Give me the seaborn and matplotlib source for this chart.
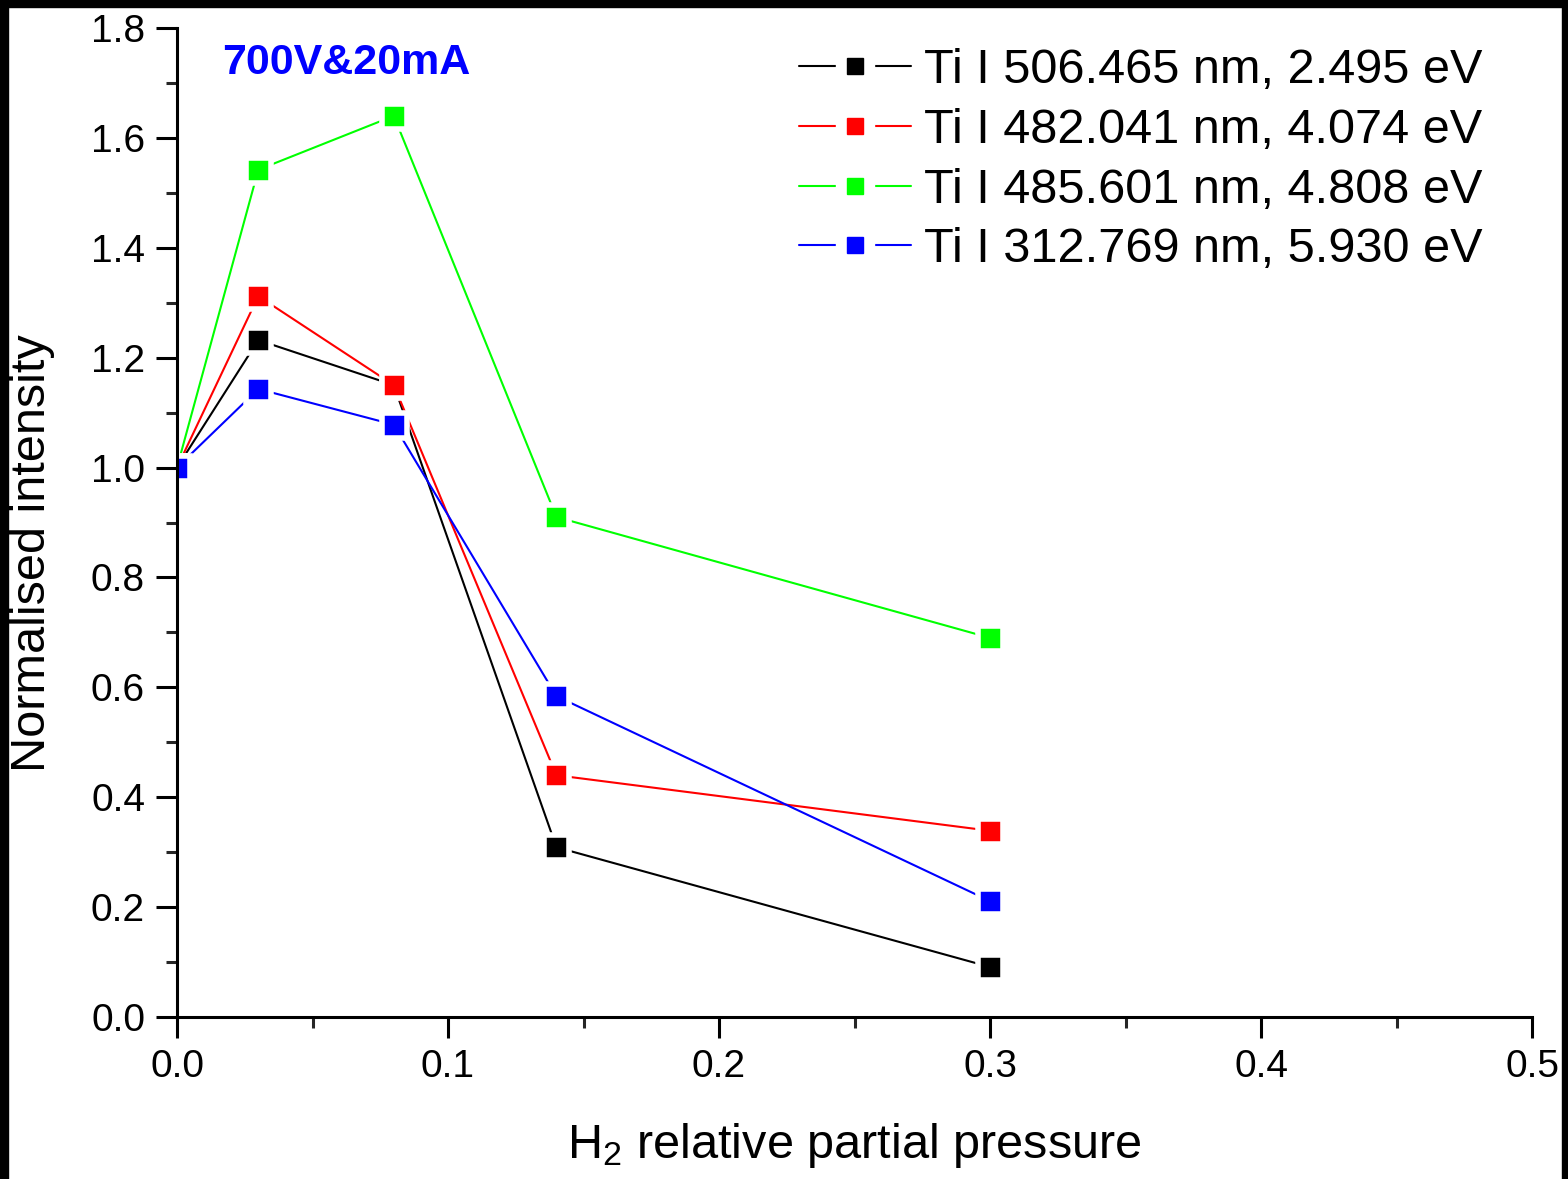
import matplotlib
matplotlib.use("Agg")
import matplotlib.pyplot as plt
from matplotlib.lines import Line2D
from matplotlib.patches import Rectangle
from matplotlib.legend_handler import HandlerTuple
from matplotlib.ticker import MultipleLocator, FormatStrFormatter
import seaborn as sns
import pandas as pd

sns.set_theme(style="white")
plt.rcParams["font.family"] = ["Liberation Sans", "DejaVu Sans"]
plt.rcParams["text.color"] = "black"
plt.rcParams["axes.labelcolor"] = "black"
plt.rcParams["mathtext.fontset"] = "custom"
plt.rcParams["mathtext.rm"] = "Liberation Sans"
plt.rcParams["mathtext.it"] = "Liberation Sans:italic"

# H2 relative partial pressure
pressure = [0.0, 0.03, 0.08, 0.14, 0.30]

# Normalised line intensities
ti_506 = [1.00, 1.232, 1.150, 0.309, 0.091]
ti_482 = [1.00, 1.312, 1.150, 0.440, 0.339]
ti_485 = [1.00, 1.542, 1.640, 0.910, 0.690]
ti_312 = [1.00, 1.143, 1.078, 0.584, 0.211]

labels = ["Ti I 506.465 nm, 2.495 eV",
          "Ti I 482.041 nm, 4.074 eV",
          "Ti I 485.601 nm, 4.808 eV",
          "Ti I 312.769 nm, 5.930 eV"]
series = [ti_506, ti_482, ti_485, ti_312]
colors = ["#000000", "#ff0000", "#00ff00", "#0000ff"]

fig = plt.figure(figsize=(15.68, 11.79), dpi=100)
ax = fig.add_axes([177 / 1568, 1 - 1017 / 1179, (1532 - 177) / 1568, (1017 - 28) / 1179])

for vals, col, lab in zip(series, colors, labels):
    df = pd.DataFrame({"p": pressure, "I": vals})
    sns.lineplot(data=df, x="p", y="I", ax=ax, color=col, linewidth=1.5,
                 marker="s", markersize=18, markerfacecolor=col,
                 markeredgecolor="white", markeredgewidth=4, label=lab,
                 legend=False)

ax.set_xlim(0, 0.5)
ax.set_ylim(0, 1.8)
ax.xaxis.set_major_locator(MultipleLocator(0.1))
ax.xaxis.set_minor_locator(MultipleLocator(0.05))
ax.yaxis.set_major_locator(MultipleLocator(0.2))
ax.yaxis.set_minor_locator(MultipleLocator(0.1))
ax.xaxis.set_major_formatter(FormatStrFormatter("%.1f"))
ax.yaxis.set_major_formatter(FormatStrFormatter("%.1f"))

for side in ["top", "right"]:
    ax.spines[side].set_visible(False)
for side in ["left", "bottom"]:
    ax.spines[side].set_linewidth(2.2)
    ax.spines[side].set_color("black")

ax.tick_params(which="major", direction="out", length=15, width=2.2,
               labelsize=28, pad=8, colors="black", left=True, bottom=True)
ax.tick_params(which="minor", direction="out", length=8, width=2.2,
               left=True, bottom=True)

ax.set_xlabel("H$_2$ relative partial pressure", fontsize=35, color="black")
ax.set_ylabel("Normalised intensity", fontsize=35, color="black")
ax.xaxis.set_label_coords(0.5, -0.105)
ax.yaxis.set_label_coords(-0.090, 0.469)

ax.text(0.033, 0.965, "700V&20mA", transform=ax.transAxes, color="#0000ff",
        fontsize=31, fontweight="bold", ha="left", va="center")

# Legend entries: line broken around a square marker
handles = []
for col in colors:
    ln = Line2D([], [], color=col, linewidth=1.5)
    gap = Line2D([], [], color="white", marker="s", markersize=27, linestyle="none")
    mk = Line2D([], [], color=col, marker="s", markersize=12, linestyle="none")
    handles.append((ln, gap, mk))
leg = ax.legend(handles, labels, handler_map={tuple: HandlerTuple(ndivide=1)},
                loc="upper right", bbox_to_anchor=(0.978, 0.999), frameon=False,
                fontsize=35, handlelength=2.3, handletextpad=0.28, labelspacing=0.30,
                borderaxespad=0)
for t in leg.get_texts():
    t.set_color("black")

# Dark border along the image edges
fig.add_artist(Rectangle((0, 1 - 7 / 1179), 1, 7 / 1179, transform=fig.transFigure,
                         color="black", zorder=10))
fig.add_artist(Rectangle((0, 0), 8 / 1568, 1, transform=fig.transFigure,
                         color="black", zorder=10))
fig.add_artist(Rectangle((1 - 6 / 1568, 0), 6 / 1568, 1, transform=fig.transFigure,
                         color="black", zorder=10))

fig.savefig("out.png", dpi=100, facecolor="white")
